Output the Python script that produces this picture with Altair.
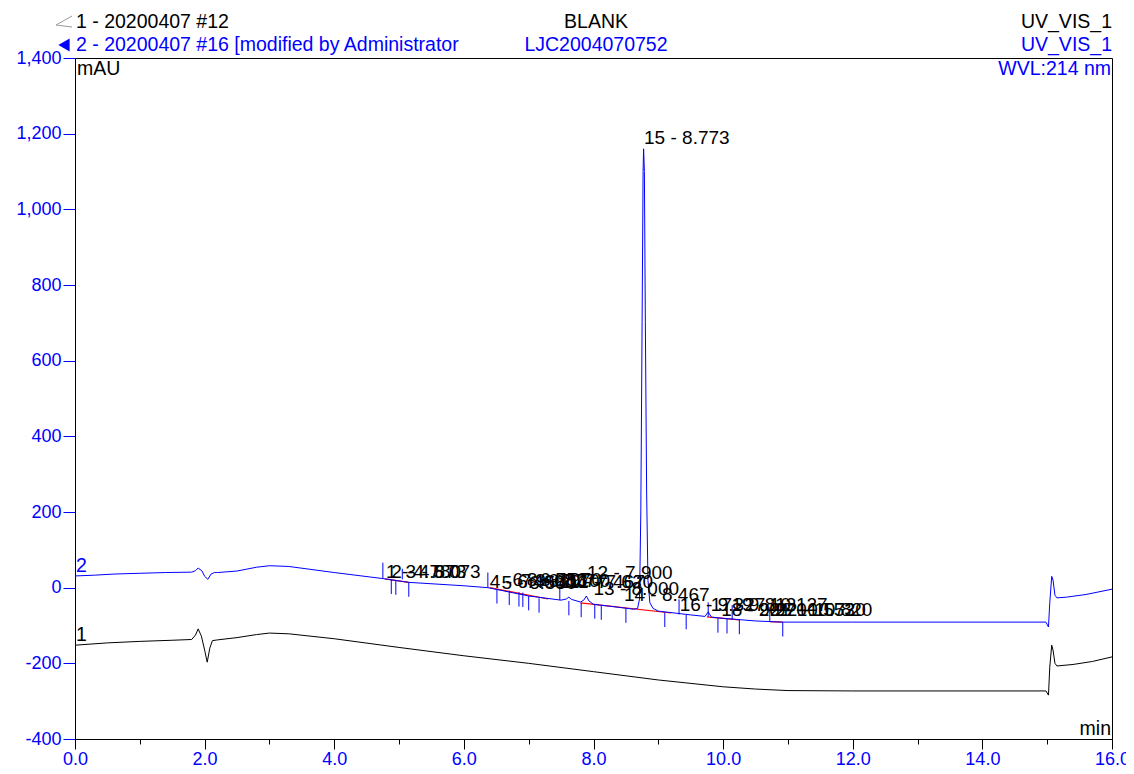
import altair as alt
import pandas as pd

# ---- trace 2 (blue) ----
t_blue = [0, 0.3, 0.6, 1.0, 1.4, 1.8, 1.86, 1.9, 1.96, 2.0, 2.05, 2.1, 2.15, 2.2, 2.5, 2.8, 3.0, 3.3,
          4.0, 4.75, 5.15, 6.0, 6.37, 7.0, 7.5, 7.58, 7.62, 7.66, 7.8, 7.85, 7.89, 7.93, 8.0, 8.3,
          8.62, 8.68, 8.71, 8.73, 8.75, 8.765, 8.773, 8.785, 8.80, 8.82, 8.84, 8.87, 8.92, 9.0,
          9.5, 9.72, 9.77, 9.82, 10.0, 10.5, 10.9, 12.0, 14.98, 15.02, 15.04, 15.07, 15.09, 15.12,
          15.15, 15.3, 15.6, 16.0]
v_blue = [31, 33, 36, 38, 40, 41, 45, 52, 44, 30, 22, 36, 40, 40, 44, 54, 58, 56,
          40, 24, 14, 5, 0, -22, -33, -30, -25, -31, -38, -33, -22, -35, -44, -50,
          -57, -55, -30, 200, 700, 1100, 1160, 1100, 700, 250, 20, -40, -55, -62,
          -72, -76, -64, -78, -81, -88, -91, -91, -91, -104, -40, 30, 20, -20,
          -27, -25, -18, -4]

# ---- trace 1 (black) ----
t_black = [0, 0.5, 1.0, 1.5, 1.8, 1.86, 1.9, 1.95, 2.0, 2.04, 2.08, 2.12, 2.2, 2.5, 2.8, 3.0, 3.3,
           4.0, 5.0, 6.0, 7.0, 8.0, 9.0, 10.0, 10.5, 11.0, 12.0, 14.98, 15.02, 15.04, 15.07,
           15.09, 15.12, 15.15, 15.4, 15.7, 16.0]
v_black = [-152, -146, -142, -139, -137, -125, -109, -128, -165, -197, -160, -140, -138, -132, -124,
           -120, -122, -135, -158, -180, -200, -222, -244, -262, -268, -272, -273, -273, -284,
           -210, -152, -165, -200, -207, -203, -195, -183]

# ---- red integration baselines (segment id, time, value) ----
red_seg = [1, 1, 2, 2, 3, 3, 4, 4, 5, 5]
red_t = [4.78, 5.15, 6.40, 7.30, 7.80, 9.20, 9.75, 10.25, 10.72, 10.92]
red_v = [23, 14, 0, -30, -40, -67, -77, -85, -90, -91]

# ---- peak delimiter ticks ----
mark_t = [4.75, 4.88, 4.95, 5.05, 5.15, 6.37, 6.51, 6.70, 6.85, 6.91, 7.00, 7.16, 7.48, 7.62,
          7.81, 8.02, 8.12, 8.50, 9.10, 9.32, 9.43, 9.77, 9.92, 10.06, 10.14, 10.25, 10.72, 10.92]
mark_lo = [24, -17, -19, 22, -24, 0, -42, -46, -50, -51, -60, -66, -33, -73,
           -78, -82, -85, -93, -104, -71, -110, -77, -119, -121, -84, -123, -90, -129]
mark_hi = [66, 21, 19, 50, 14, 40, -4, -8, -12, -13, -22, -28, 9, -35,
           -40, -44, -47, -55, -66, -31, -72, -39, -81, -83, -46, -85, -52, -91]

# ---- peak labels ----
lab_text = ["1 - 4.780", "2 - 4.873", "3 - 5.073", "4 - 6.400", "5 - 6.580", "6 - 6.753",
            "7 - 6.877", "8 - 6.970", "9 - 7.100", "10 - 7.467", "11 - 7.620", "12 - 7.900",
            "13 - 8.000", "14 - 8.467", "15 - 8.773", "16 - 9.327", "17 - 9.813", "18 - 9.970",
            "19 - 10.127", "20 - 10.553", "21 - 10.720", "22 - 10.820"]
lab_t = [4.80, 4.88, 5.10, 6.40, 6.58, 6.75, 6.88, 6.97, 7.10, 7.47, 7.62, 7.90,
         8.00, 8.47, 8.78, 9.33, 9.81, 9.97, 10.13, 10.55, 10.72, 10.82]
lab_v = [41, 41, 41, 15, 12, 20, 18, 20, 18, 14, 14, 38,
         -4, -20, 1188, -46, -46, -59, -46, -59, -59, -59]

# ---- header / annotation texts ----
ann_text = ["1 - 20200407 #12", "BLANK", "UV_VIS_1",
            "2 - 20200407 #16 [modified by Administrator", "LJC2004070752", "UV_VIS_1",
            "WVL:214 nm", "mAU", "min", "2", "1"]
ann_x = [1, 521, 1037, 1, 521, 1037, 1036, 2, 1036, 1, 1]
ann_y = [-36, -36, -36, -13, -13, -13, 11, 11, 671, 508, 577]
ann_align = ["left", "center", "right", "left", "center", "right", "right", "left", "right", "left", "left"]
blue = "#0000ff"
ann_color = ["black", "black", "black", blue, blue, blue, blue, "black", "black", blue, "black"]

font = "Liberation Sans"

df_blue = pd.DataFrame({"t": t_blue, "v": v_blue})
df_black = pd.DataFrame({"t": t_black, "v": v_black})
df_red = pd.DataFrame({"seg": red_seg, "t": red_t, "v": red_v})
df_marks = pd.DataFrame({"t": mark_t, "lo": mark_lo, "hi": mark_hi})
df_labs = pd.DataFrame({"text": lab_text, "t": lab_t, "v": lab_v})
df_ann = pd.DataFrame({"text": ann_text})
df_one = pd.DataFrame({"k": [0]})

xs = alt.Scale(domain=[0, 16], nice=False, zero=False)
ys = alt.Scale(domain=[-400, 1400], nice=False, zero=False)

x_axis = alt.Axis(
    values=[i * 0.5 for i in range(33)],
    labelExpr="datum.value % 2 === 0 ? format(datum.value, '.1f') : ''",
    tickSize=alt.ExprRef("datum.value % 2 === 0 ? 10 : 5"),
    labelColor=blue, tickColor="black", domainColor="black",
    labelFont=font, labelFontSize=18, labelPadding=1,
    labelOverlap=False, labelFlush=False, labelBound=False,
    title=None, grid=False,
)
y_axis = alt.Axis(
    values=list(range(-400, 1401, 50)),
    labelExpr="datum.value % 200 === 0 ? replace(format(datum.value, ','), '\u2212', '-') : ''",
    tickSize=alt.ExprRef("datum.value % 200 === 0 ? 12 : 6"),
    labelColor=blue, tickColor=blue, domainColor="black",
    labelFont=font, labelFontSize=18, labelPadding=2,
    labelOverlap=False, labelBound=False, labelFlush=False,
    title=None, grid=False,
)

line_blue = alt.Chart(df_blue).mark_line(color=blue, strokeWidth=1).encode(
    x=alt.X("t:Q", scale=xs, axis=x_axis),
    y=alt.Y("v:Q", scale=ys, axis=y_axis),
    order="t:Q",
)
line_black = alt.Chart(df_black).mark_line(color="black", strokeWidth=1).encode(
    x=alt.X("t:Q", scale=xs),
    y=alt.Y("v:Q", scale=ys),
    order="t:Q",
)
red_lines = alt.Chart(df_red).mark_line(color="#ff0000", strokeWidth=1.2).encode(
    x=alt.X("t:Q", scale=xs),
    y=alt.Y("v:Q", scale=ys),
    detail="seg:N",
)
ticks = alt.Chart(df_marks).mark_rule(color=blue, strokeWidth=1).encode(
    x=alt.X("t:Q", scale=xs),
    y=alt.Y("lo:Q", scale=ys),
    y2="hi:Q",
)
labels = alt.Chart(df_labs).mark_text(
    align="left", baseline="middle", font=font, fontSize=19, color="black"
).encode(
    x=alt.X("t:Q", scale=xs),
    y=alt.Y("v:Q", scale=ys),
    text="text:N",
)

ann_layers = []
for i in range(len(ann_text)):
    ann_layers.append(
        alt.Chart(df_ann.iloc[[i]]).mark_text(
            align=ann_align[i], baseline="middle", font=font, fontSize=19.5, color=ann_color[i]
        ).encode(
            x=alt.value(ann_x[i]),
            y=alt.value(ann_y[i]),
            text="text:N",
        )
    )

icon2 = alt.Chart(df_one).mark_point(shape="triangle-left", filled=True, color=blue, size=170, opacity=1).encode(
    x=alt.value(-11), y=alt.value(-13),
)
icon1a = alt.Chart(df_one).mark_rule(color="#999999", strokeWidth=1).encode(
    x=alt.value(-19), y=alt.value(-33), x2=alt.value(-3), y2=alt.value(-42),
)
icon1b = alt.Chart(df_one).mark_rule(color="#999999", strokeWidth=1).encode(
    x=alt.value(-19), y=alt.value(-33), x2=alt.value(-3), y2=alt.value(-31),
)

chart = alt.layer(
    line_black, red_lines, line_blue, ticks, labels, *ann_layers, icon2, icon1a, icon1b
).properties(
    width=1037, height=681,
    autosize=alt.AutoSizeParams(type="none"),
    padding={"left": 67, "top": 50, "right": 14, "bottom": 27},
    background="white",
).configure_view(stroke="black", strokeWidth=1)

chart.save("out.html", embed_options={"renderer": "svg", "actions": False})
